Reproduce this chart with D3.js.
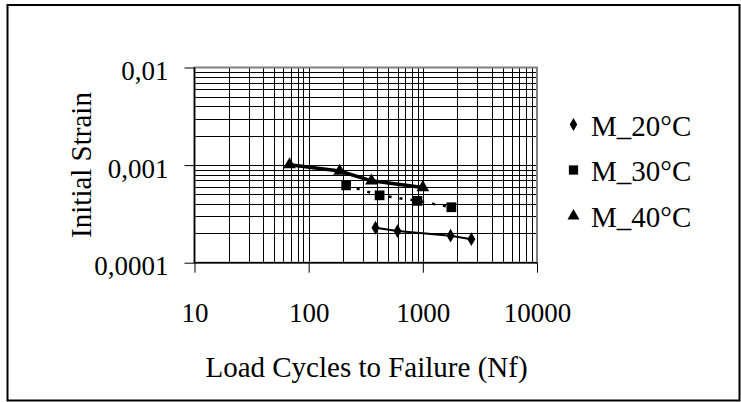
<!DOCTYPE html>
<html>
<head>
<meta charset="utf-8">
<script src="https://cdn.jsdelivr.net/npm/d3@7"></script>
<style>
body { margin: 0; background: #fff; }
svg { display: block; }
</style>
</head>
<body>
<svg width="741" height="402"></svg>
<script>
// data
var cycles20 = [385, 600, 1750, 2660];
var strain20 = [0.000228, 0.000211, 0.000189, 0.000174];
var cycles30 = [213, 418, 897, 1778];
var strain30 = [0.00062, 0.00049, 0.00043, 0.00037];
var cycles40 = [68, 187, 355, 1000];
var strain40 = [0.00101, 0.00087, 0.00069, 0.00059];
var seriesNames = ["M_20°C", "M_30°C", "M_40°C"];
var xTicks = [10, 100, 1000, 10000];
var xTickLabels = ["10", "100", "1000", "10000"];
var yTicks = [0.0001, 0.001, 0.01];
var yTickLabels = ["0,0001", "0,001", "0,01"];

var plot = {left: 194.5, right: 537, top: 67.5, bottom: 262.7};
var serif = "'Liberation Serif', 'Times New Roman', Times, serif";

var svg = d3.select('svg');

// outer frame
svg.append('rect')
.attr('x', 7.5).attr('y', 5)
.attr('width', 732).attr('height', 395.5)
.attr('fill', 'none')
.attr('stroke', '#000')
.attr('stroke-width', 2);

var xScale = d3.scaleLog().domain([10, 10000]).range([plot.left, plot.right]);
var yScale = d3.scaleLog().domain([0.0001, 0.01]).range([plot.bottom, plot.top]);

// grid lines (major + minor)
var xGrid = [];
var yGrid = [];
[10, 100, 1000].forEach(function(d){
	for (var k = 1; k <= 9; k++) xGrid.push(d*k);
});
[0.0001, 0.001].forEach(function(d){
	for (var k = 1; k <= 9; k++) yGrid.push(d*k);
});

var grid = svg.append('g').attr('class', 'grid');
grid.selectAll('line.v')
.data(xGrid.filter(function(d){ return d > 10; }))
.enter()
.append('line')
.attr('class', 'v')
.attr('x1', function(d){ return Math.round(xScale(d))+0.5; })
.attr('x2', function(d){ return Math.round(xScale(d))+0.5; })
.attr('y1', plot.top).attr('y2', plot.bottom)
.attr('stroke', '#000').attr('stroke-width', 1);
grid.selectAll('line.h')
.data(yGrid.filter(function(d){ return d > 0.0001; }))
.enter()
.append('line')
.attr('class', 'h')
.attr('y1', function(d){ return Math.round(yScale(d))+0.5; })
.attr('y2', function(d){ return Math.round(yScale(d))+0.5; })
.attr('x1', plot.left).attr('x2', plot.right)
.attr('stroke', '#000').attr('stroke-width', 1);

// plot area border
svg.append('rect')
.attr('x', plot.left).attr('y', plot.top)
.attr('width', plot.right-plot.left).attr('height', plot.bottom-plot.top)
.attr('fill', 'none')
.attr('stroke', '#808080')
.attr('stroke-width', 2);

// axes
var xaxis = d3.axisBottom(xScale)
.tickValues(xTicks)
.tickSize(10)
.tickFormat(function(d,i){ return xTickLabels[i]; });
var yaxis = d3.axisLeft(yScale)
.tickValues(yTicks)
.tickSize(10)
.tickFormat(function(d,i){ return yTickLabels[i]; });

var gx = svg.append('g')
.attr("transform","translate(0,"+plot.bottom+")")
.call(xaxis)
.attr('font-family', serif)
.attr('font-size', 27);
gx.select('.domain').attr('d', 'M'+plot.left+',0H'+plot.right).attr('stroke', '#000').attr('stroke-width', 1.5);
gx.selectAll('line').attr('stroke', '#000');
gx.selectAll('text')
.attr('y', 59).attr('dy', 0);

var gy = svg.append('g')
.attr("transform","translate("+plot.left+",0)")
.call(yaxis)
.attr('font-family', serif)
.attr('font-size', 27);
gy.select('.domain').attr('d', 'M0,'+plot.bottom+'V'+plot.top).attr('stroke', '#000').attr('stroke-width', 1.5);
gy.selectAll('line').attr('stroke', '#000');
gy.selectAll('text')
.attr('x', -26).attr('dy', 12);

// axis titles
svg.append('text')
.attr('transform', 'translate(91,165) rotate(-90)')
.attr('text-anchor', 'middle')
.attr('font-family', serif)
.attr('font-size', 29)
.text('Initial Strain');

svg.append('text')
.attr('x', 366.5).attr('y', 377)
.attr('text-anchor', 'middle')
.attr('font-family', serif)
.attr('font-size', 29)
.text('Load Cycles to Failure (Nf)');

// series
var series = [
	{name: seriesNames[0], x: cycles20, y: strain20, symbol: d3.symbolDiamond, size: 55, width: 2, dash: null},
	{name: seriesNames[1], x: cycles30, y: strain30, symbol: d3.symbolSquare, size: 95, width: 2.5, dash: '3,8'},
	{name: seriesNames[2], x: cycles40, y: strain40, symbol: d3.symbolTriangle, size: 70, width: 3.5, dash: null}
];

var line = d3.line()
.x(function(d){ return xScale(d[0]); })
.y(function(d){ return yScale(d[1]); });

series.forEach(function(s){
	var pts = d3.zip(s.x, s.y);
	svg.append('path')
	.datum(pts)
	.attr('d', line)
	.attr('fill', 'none')
	.attr('stroke', '#000')
	.attr('stroke-width', s.width)
	.attr('stroke-dasharray', s.dash);
	svg.selectAll(null)
	.data(pts)
	.enter()
	.append('path')
	.attr('transform', function(d){ return 'translate('+xScale(d[0])+','+yScale(d[1])+')'; })
	.attr('d', d3.symbol().type(s.symbol).size(s.size))
	.attr('fill', '#000');
});

// legend
var legendRows = [124.5, 170, 216];
var legend = svg.append('g');
series.forEach(function(s, i){
	legend.append('path')
	.attr('transform', 'translate(573.5,'+legendRows[i]+')')
	.attr('d', d3.symbol().type(s.symbol).size(s.size*0.9))
	.attr('fill', '#000');
	legend.append('text')
	.attr('x', 591).attr('y', legendRows[i]+11)
	.attr('font-family', serif)
	.attr('font-size', 29)
	.text(s.name);
});
</script>
</body>
</html>
